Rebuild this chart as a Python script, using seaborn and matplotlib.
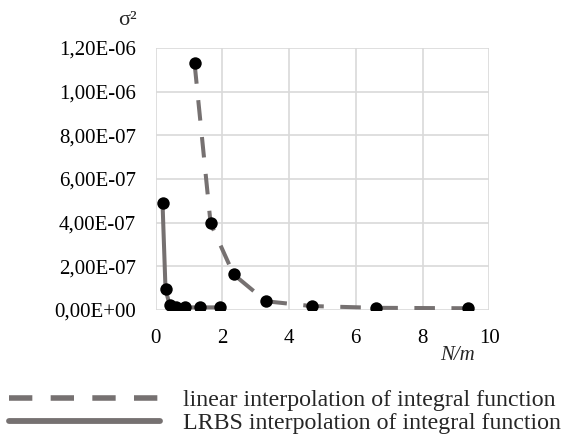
import numpy as np
import pandas as pd
import matplotlib
matplotlib.use("Agg")
import matplotlib.pyplot as plt
import seaborn as sns
from matplotlib.lines import Line2D
from matplotlib.ticker import FuncFormatter, MultipleLocator

# linear interpolation of integral function
lin_x = [1.17, 1.65, 2.34, 3.31, 4.68, 6.62, 9.36]
lin_y = [1.13e-6, 3.97e-7, 1.63e-7, 4.0e-8, 1.8e-8, 1.0e-8, 8.0e-9]

# LRBS interpolation of integral function
lrbs_x = [0.21, 0.30, 0.42, 0.62, 0.87, 1.32, 1.93]
lrbs_y = [4.92e-7, 9.5e-8, 2.5e-8, 1.5e-8, 1.2e-8, 1.2e-8, 1.2e-8]

labels = ["linear interpolation of integral function",
          "LRBS interpolation of integral function"]

sns.set_theme(style="white")
plt.rcParams["font.family"] = "serif"
plt.rcParams["font.serif"] = ["Liberation Serif", "DejaVu Serif"]

line_col = "#767171"
fig = plt.figure(figsize=(5.62, 4.34), dpi=100)
ax = fig.add_axes([0.2767, 0.2857, 0.594, 0.6037])

df_lin = pd.DataFrame({"x": lin_x, "y": lin_y})
df_lrbs = pd.DataFrame({"x": lrbs_x, "y": lrbs_y})

sns.lineplot(data=df_lin, x="x", y="y", ax=ax, sort=False, color=line_col,
             linewidth=2.9, estimator=None)
ax.lines[-1].set_dashes([5.1, 4.1])
ax.lines[-1].set_dash_capstyle("butt")
sns.lineplot(data=df_lrbs, x="x", y="y", ax=ax, sort=False, color=line_col,
             linewidth=2.9, estimator=None)
sns.scatterplot(data=pd.concat([df_lin, df_lrbs]), x="x", y="y", ax=ax,
                color="black", s=80, linewidth=0, zorder=5)

ax.set_xlim(0, 10)
ax.set_ylim(0, 1.2e-6)
ax.xaxis.set_major_locator(MultipleLocator(2))
ax.yaxis.set_major_locator(MultipleLocator(2e-7))
ax.yaxis.set_major_formatter(FuncFormatter(
    lambda v, p: ("%.2E" % v).replace(".", ",")))
ax.grid(True, color="#d9d9d9", linewidth=1.2)
for s in ax.spines.values():
    s.set_visible(False)
ax.tick_params(axis="both", labelsize=15, length=0, pad=14, colors="black")
ax.set_xlabel("")
ax.set_ylabel("")

fig.text(0.226, 0.952, "σ²", fontsize=16, ha="center", va="center")
fig.text(0.815, 0.182, "N/m", fontsize=15, style="italic", ha="center", va="center")

handles = [Line2D([], [], color=line_col, linewidth=4, dashes=[4.2, 3.3],
                  dash_capstyle="butt"),
           Line2D([], [], color=line_col, linewidth=4.2)]
fig.legend(handles, labels, loc="lower left", bbox_to_anchor=(0.0166, 0.0),
           frameon=False, fontsize=17.2, handlelength=6.3, labelspacing=0.05,
           handletextpad=0.95, borderaxespad=0, borderpad=0)

fig.savefig("out.png", dpi=100)
